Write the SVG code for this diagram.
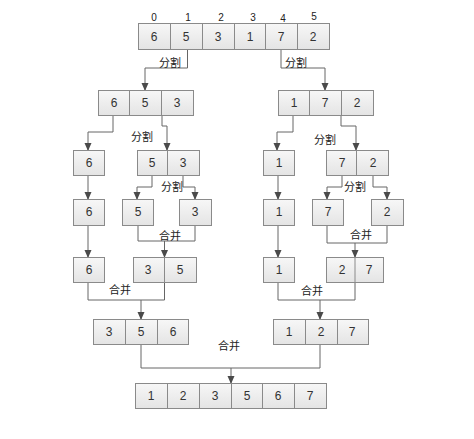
<svg xmlns="http://www.w3.org/2000/svg" width="474" height="439" viewBox="0 0 474 439">
<defs>
<linearGradient id="cellg" x1="0" y1="0" x2="0" y2="1">
<stop offset="0" stop-color="#f7f7f7"/>
<stop offset="1" stop-color="#e4e4e4"/>
</linearGradient>
<marker id="arr" viewBox="0 0 8 8" refX="7" refY="4" markerWidth="8" markerHeight="8" markerUnits="userSpaceOnUse" orient="auto">
<path d="M0,0.5 L8,4 L0,7.5 Z" fill="#4a4a4a"/>
</marker>
<style>
.box{fill:url(#cellg);stroke:#8a8a8a;stroke-width:1}
.div{stroke:#8a8a8a;stroke-width:1}
.num{font-family:"Liberation Sans",Arial,sans-serif;font-size:12px;fill:#333;text-anchor:middle}
.idx{font-family:"Liberation Sans",Arial,sans-serif;font-size:10px;fill:#222;text-anchor:middle}
.lbl{font-family:"Liberation Sans","Noto Sans CJK SC",sans-serif;font-size:11px;fill:#222;text-anchor:middle}
.ln{fill:none;stroke:#666;stroke-width:1}
.ar{fill:none;stroke:#666;stroke-width:1;marker-end:url(#arr)}
</style>
</defs>
<rect width="474" height="439" fill="#fff"/>

<g id="indices">
<text class="idx" x="154" y="21">0</text>
<text class="idx" x="188" y="21">1</text>
<text class="idx" x="221" y="21">2</text>
<text class="idx" x="253" y="21">3</text>
<text class="idx" x="283" y="22">4</text>
<text class="idx" x="314" y="20">5</text>
</g>

<g id="connectors">
<path class="ar" d="M187.5,49 V68 H145 V90"/>
<path class="ar" d="M281,49 V68 H325 V90"/>
<path class="ar" d="M113,115 V132 H88 V150"/>
<path class="ar" d="M162,115 V126 H167 V150"/>
<path class="ar" d="M293,115 V132 H277 V150"/>
<path class="ar" d="M341,115 V126 H356 V150"/>
<path class="ar" d="M152,175 V187 H137 V199"/>
<path class="ar" d="M183,175 V187 H195 V199"/>
<path class="ar" d="M342,175 V187 H327 V199"/>
<path class="ar" d="M373,175 V187 H387 V199"/>
<path class="ar" d="M88,175 V199"/>
<path class="ar" d="M278,175 V199"/>
<path class="ln" d="M138,225 V241 H195 V225"/>
<path class="ar" d="M164.5,241 V257"/>
<path class="ln" d="M327,225 V243 H387 V225"/>
<path class="ar" d="M355,243 V257"/>
<path class="ar" d="M88,225 V257"/>
<path class="ar" d="M278,225 V257"/>
<path class="ln" d="M88,282 V300 H164.5 V282"/>
<path class="ar" d="M141,300 V319"/>
<path class="ln" d="M278,282 V300 H355 V282"/>
<path class="ar" d="M320,300 V319"/>
<path class="ln" d="M141,344 V368 H320 V344"/>
<path class="ar" d="M231,368 V383"/>
</g>

<g id="labels">
<text class="lbl" x="170" y="67">分割</text>
<text class="lbl" x="296" y="67">分割</text>
<text class="lbl" x="142" y="141">分割</text>
<text class="lbl" x="325" y="144">分割</text>
<text class="lbl" x="172" y="191">分割</text>
<text class="lbl" x="355" y="191">分割</text>
<text class="lbl" x="170" y="240">合并</text>
<text class="lbl" x="361" y="239">合并</text>
<text class="lbl" x="120" y="294">合并</text>
<text class="lbl" x="312" y="295">合并</text>
<text class="lbl" x="229" y="350">合并</text>
</g>

<g id="n-top">
<rect class="box" x="138.5" y="23.5" width="191" height="26"/>
<path class="div" d="M170.5,23.5 V49.5 M202.5,23.5 V49.5 M234.5,23.5 V49.5 M265.5,23.5 V49.5 M297.5,23.5 V49.5"/>
<text class="num" x="154" y="41">6</text><text class="num" x="186" y="41">5</text><text class="num" x="218" y="41">3</text><text class="num" x="250" y="41">1</text><text class="num" x="281" y="41">7</text><text class="num" x="313" y="41">2</text>
</g>

<g id="n-l2-left">
<rect class="box" x="98.5" y="90.5" width="95" height="25"/>
<path class="div" d="M129.5,90.5 V115.5 M161.5,90.5 V115.5"/>
<text class="num" x="114" y="107">6</text><text class="num" x="145" y="107">5</text><text class="num" x="177" y="107">3</text>
</g>
<g id="n-l2-right">
<rect class="box" x="278.5" y="90.5" width="95" height="25"/>
<path class="div" d="M309.5,90.5 V115.5 M341.5,90.5 V115.5"/>
<text class="num" x="294" y="107">1</text><text class="num" x="325" y="107">7</text><text class="num" x="357" y="107">2</text>
</g>

<g id="n-l3-6">
<rect class="box" x="73.5" y="150.5" width="31" height="25"/>
<text class="num" x="89" y="167">6</text>
</g>
<g id="n-l3-53">
<rect class="box" x="137.5" y="150.5" width="62" height="25"/>
<path class="div" d="M167.5,150.5 V175.5"/>
<text class="num" x="152" y="167">5</text><text class="num" x="183" y="167">3</text>
</g>
<g id="n-l3-1">
<rect class="box" x="263.5" y="150.5" width="31" height="25"/>
<text class="num" x="279" y="167">1</text>
</g>
<g id="n-l3-72">
<rect class="box" x="326.5" y="150.5" width="62" height="25"/>
<path class="div" d="M356.5,150.5 V175.5"/>
<text class="num" x="342" y="167">7</text><text class="num" x="373" y="167">2</text>
</g>

<g id="n-l4-6">
<rect class="box" x="73.5" y="199.5" width="31" height="26"/>
<text class="num" x="89" y="216">6</text>
</g>
<g id="n-l4-5">
<rect class="box" x="122.5" y="199.5" width="31" height="26"/>
<text class="num" x="138" y="216">5</text>
</g>
<g id="n-l4-3">
<rect class="box" x="179.5" y="199.5" width="32" height="26"/>
<text class="num" x="195" y="216">3</text>
</g>
<g id="n-l4-1">
<rect class="box" x="263.5" y="199.5" width="31" height="26"/>
<text class="num" x="279" y="216">1</text>
</g>
<g id="n-l4-7">
<rect class="box" x="312.5" y="199.5" width="31" height="26"/>
<text class="num" x="328" y="216">7</text>
</g>
<g id="n-l4-2">
<rect class="box" x="371.5" y="199.5" width="32" height="26"/>
<text class="num" x="387" y="216">2</text>
</g>

<g id="n-l5-6">
<rect class="box" x="73.5" y="257.5" width="31" height="25"/>
<text class="num" x="89" y="274">6</text>
</g>
<g id="n-l5-35">
<rect class="box" x="133.5" y="257.5" width="63" height="25"/>
<path class="div" d="M164.5,257.5 V282.5"/>
<text class="num" x="148" y="274">3</text><text class="num" x="180" y="274">5</text>
</g>
<g id="n-l5-1">
<rect class="box" x="263.5" y="257.5" width="31" height="25"/>
<text class="num" x="279" y="274">1</text>
</g>
<g id="n-l5-27">
<rect class="box" x="326.5" y="257.5" width="57" height="25"/>
<path class="div" d="M355,257.5 V282.5"/>
<text class="num" x="342" y="274">2</text><text class="num" x="369" y="274">7</text>
</g>

<g id="n-l6-356">
<rect class="box" x="93.5" y="319.5" width="95" height="25"/>
<path class="div" d="M125.5,319.5 V344.5 M157.5,319.5 V344.5"/>
<text class="num" x="109" y="336">3</text><text class="num" x="141" y="336">5</text><text class="num" x="173" y="336">6</text>
</g>
<g id="n-l6-127">
<rect class="box" x="273.5" y="319.5" width="95" height="25"/>
<path class="div" d="M305.5,319.5 V344.5 M337.5,319.5 V344.5"/>
<text class="num" x="289" y="336">1</text><text class="num" x="321" y="336">2</text><text class="num" x="352" y="336">7</text>
</g>

<g id="n-final">
<rect class="box" x="135.5" y="383.5" width="191" height="25"/>
<path class="div" d="M167.5,383.5 V408.5 M199.5,383.5 V408.5 M231.5,383.5 V408.5 M262.5,383.5 V408.5 M294.5,383.5 V408.5"/>
<text class="num" x="151" y="400">1</text><text class="num" x="183" y="400">2</text><text class="num" x="215" y="400">3</text><text class="num" x="247" y="400">5</text><text class="num" x="278" y="400">6</text><text class="num" x="310" y="400">7</text>
</g>
</svg>
